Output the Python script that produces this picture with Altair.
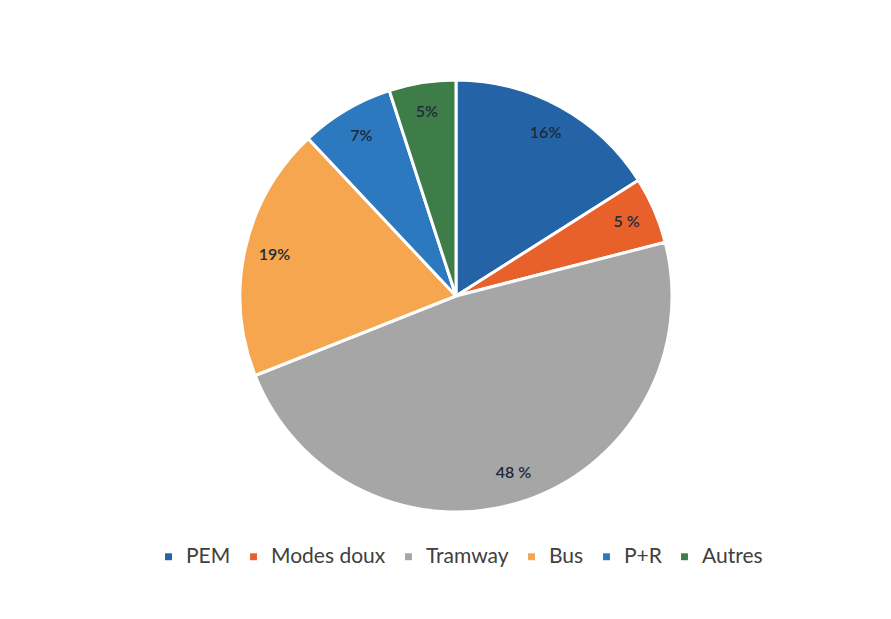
import altair as alt
import pandas as pd

categories = ["PEM", "Modes doux", "Tramway", "Bus", "P+R", "Autres"]
values = [16, 5, 48, 19, 7, 5]
labels = ["16%", "5 %", "48 %", "19%", "7%", "5%"]
colors = ["#2463a6", "#e8602a", "#a6a6a6", "#f5a64e", "#2c79bf", "#3e7d48"]

df = pd.DataFrame({
    "cat": categories,
    "val": values,
    "lab": labels,
    "ord": list(range(len(categories))),
})

cx, cy, R = 448, 288, 216

base = alt.Chart(df).encode(
    theta=alt.Theta("val:Q", stack=True),
    order=alt.Order("ord:Q"),
)

color = alt.Color(
    "cat:N",
    scale=alt.Scale(domain=categories, range=colors),
    legend=alt.Legend(
        title=None,
        orient="none",
        direction="horizontal",
        legendX=150,
        legendY=538,
        symbolType="square",
        symbolSize=48,
        symbolStrokeWidth=0,
        labelFont="Lato",
        labelFontSize=21,
        labelColor="#404040",
        labelOffset=7,
        columnPadding=12,
    ),
    sort=categories,
)

pie = base.mark_arc(outerRadius=R, stroke="white", strokeWidth=3).encode(
    color=color,
    x=alt.value(cx),
    y=alt.value(cy),
)

text = base.mark_text(radius=186, font="Lato", fontSize=16, fontWeight=600, color="#1e2a3a").encode(
    text="lab:N",
    x=alt.value(cx),
    y=alt.value(cy),
)

chart = (pie + text).properties(
    width=875,
    height=603,
    autosize=alt.AutoSizeParams(type="none"),
    padding=0,
).configure(background="white", view=alt.ViewConfig(stroke=None))

chart.save("out.html", embed_options={"renderer": "svg", "actions": False})
